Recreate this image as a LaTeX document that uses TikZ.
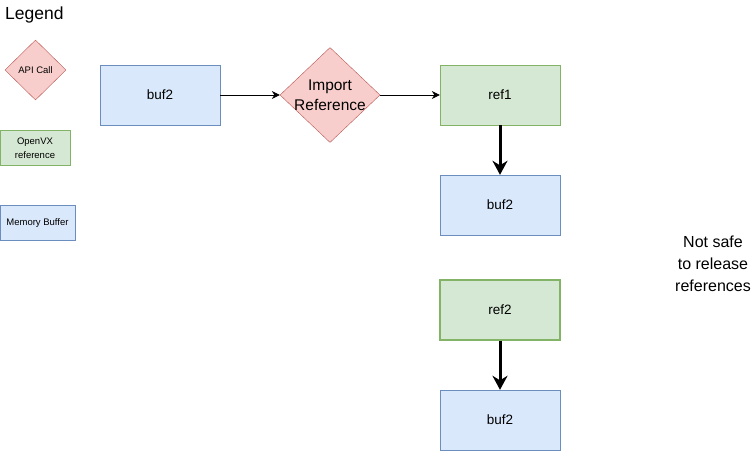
\documentclass[tikz,border=0pt]{standalone}
\usepackage{fontspec}
\setmainfont{Liberation Sans}
\usepackage{tikz}
\usetikzlibrary{shapes.geometric,arrows.meta}

\definecolor{callfill}{HTML}{F8CECC}
\definecolor{calldraw}{HTML}{B85450}
\definecolor{reffill}{HTML}{D5E8D4}
\definecolor{refdraw}{HTML}{82B366}
\definecolor{buffill}{HTML}{DAE8FC}
\definecolor{bufdraw}{HTML}{6C8EBF}

\tikzset{
  apicall/.style={diamond,draw=calldraw,fill=callfill,inner sep=0pt,align=center},
  vxref/.style={rectangle,draw=refdraw,fill=reffill,inner sep=0pt,align=center},
  membuf/.style={rectangle,draw=bufdraw,fill=buffill,inner sep=0pt,align=center},
  thinarrow/.style={-{Stealth[length=8pt,width=8pt]},line width=0.8pt},
  thickarrow/.style={-{Stealth[length=14pt,width=15pt]},line width=3pt}
}

\begin{document}
\begin{tikzpicture}[x=1pt,y=-1pt]
    \useasboundingbox (0,0) rectangle (753,451);

    % Legend
    \node [anchor=west,inner sep=0pt,font=\fontsize{17.5}{20}\selectfont] (legend) at (5,15) {Legend};
    \node [apicall,inner sep=-4pt,minimum width=61pt,minimum height=60pt,font=\fontsize{9.5}{11}\selectfont] (legcall) at (35.5,70) {API Call};
    \node [vxref,minimum width=70pt,minimum height=35pt,font=\fontsize{9.5}{14}\selectfont] (legref) at (35,148) {OpenVX\\reference};
    \node [membuf,minimum width=75pt,minimum height=35pt,font=\fontsize{9.5}{11}\selectfont] (legbuf) at (37.5,223) {Memory Buffer};

    % Import step
    \node [membuf,minimum width=120pt,minimum height=60pt,font=\fontsize{13.5}{16}\selectfont] (bufa) at (160,95) {buf2};
    \node [apicall,inner sep=-6pt,minimum width=100pt,minimum height=95pt,font=\fontsize{15.5}{20}\selectfont] (import) at (330,95) {Import\\Reference};
    \node [vxref,minimum width=120pt,minimum height=60pt,font=\fontsize{13.5}{16}\selectfont] (refa) at (500,95) {ref1};
    \node [membuf,minimum width=120pt,minimum height=60pt,font=\fontsize{13.5}{16}\selectfont] (bufb) at (500,205) {buf2};

    % Second reference
    \node [vxref,line width=1.6pt,minimum width=120pt,minimum height=60pt,font=\fontsize{13.5}{16}\selectfont] (refb) at (500,310) {ref2};
    \node [membuf,minimum width=120pt,minimum height=60pt,font=\fontsize{13.5}{16}\selectfont] (bufc) at (500,420) {buf2};

    % Connectors
    \draw [thinarrow] (bufa) -- (import);
    \draw [thinarrow] (import) -- (refa);
    \draw [thickarrow] (refa) -- (bufb);
    \draw [thickarrow] (refb) -- (bufc);

    % Note
    \node [align=center,inner sep=0pt,font=\fontsize{16}{22}\selectfont] (note) at (713,264) {Not safe\\to release\\references};
\end{tikzpicture}
\end{document}
